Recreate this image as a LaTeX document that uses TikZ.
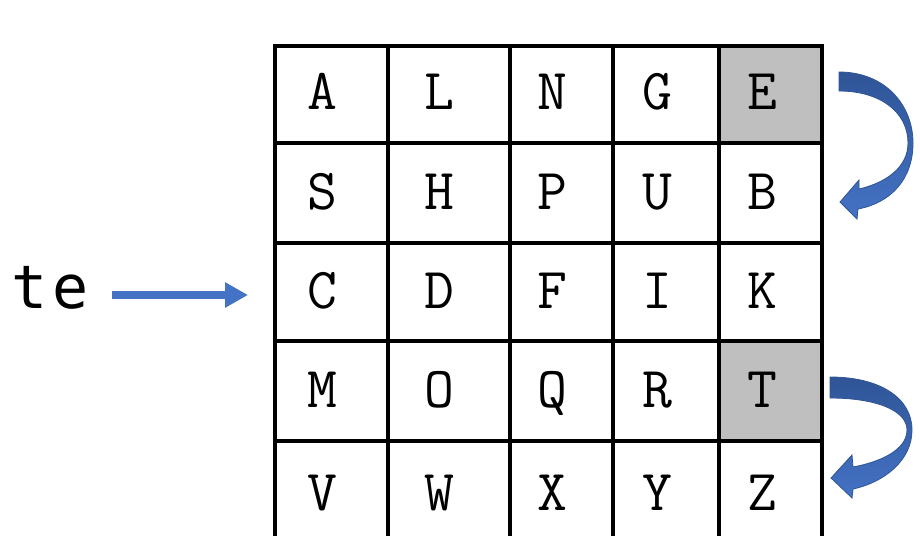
\documentclass[tikz,border=0pt]{standalone}
\usepackage{fontspec}
\newfontfamily\msgfont[LetterSpace=8]{DejaVu Sans Mono}
\usetikzlibrary{positioning}
\usetikzlibrary{arrows.meta}
\definecolor{CELL-GRAY}{RGB}{191,191,191}
\definecolor{ARROW-BLUE}{RGB}{68,114,196}
\definecolor{ARROW-DARK}{RGB}{47,85,151}

\tikzset{
  gridline/.style={line width=1.8pt,line cap=rect},
  letter/.style={anchor=base,inner sep=0pt,font=\ttfamily\fontsize{29}{29}\selectfont},
  bendarrow/.style={top color=ARROW-DARK,bottom color=ARROW-BLUE,draw=ARROW-DARK,line width=0.4pt}
}

\begin{document}
\begin{tikzpicture}[x=0.5pt,y=-0.5pt,every path/.style={>=latex}]
			\useasboundingbox (0,0) rectangle (920,535);

			% shaded cells
			\fill[CELL-GRAY] (719,46) rectangle (822,143);
			\fill[CELL-GRAY] (719,341) rectangle (822,441);

			% draw grid
			\foreach \x in {275,388,510,613,719,822}
				\draw[gridline] (\x,46) -- (\x,540);
			\foreach \y in {46,143,243,341,441}
				\draw[gridline] (275,\y) -- (822,\y);

			% draw letters
			\foreach \yy/\row in {110/{A,L,N,G,E},209/{S,H,P,U,B},308/{C,D,F,I,K},407/{M,O,Q,R,T},510/{V,W,X,Y,Z}}
				\foreach \l [count=\c] in \row {
					\pgfmathsetmacro\xx{{322,439,552,657,762}[\c-1]}
					\node (cell-\l) at (\xx,\yy) [letter] {\l};
				}

			% draw message and arrow
			\node (msg) at (50,308) [anchor=base,font=\msgfont\fontsize{30}{30}\selectfont] {te};
			\coordinate (msg-end) at (248,295);
			\draw[-{Triangle[length=11.5pt,width=12pt]},ARROW-BLUE,line width=4pt,shorten <=8pt] (msg.east |- msg-end) -- (msg-end);

			% draw curved arrows
			\shade[bendarrow] (839,72) .. controls (885,72) and (913,105) .. (913,143)
				.. controls (913,180) and (890,203) .. (858,209) -- (857,219) -- (840,202) -- (859,180) -- (859,189)
				.. controls (885,183) and (908,168) .. (908,143)
				.. controls (908,112) and (880,91) .. (839,91) -- cycle;
			\shade[bendarrow] (830,377) .. controls (880,377) and (912,398) .. (912,430)
				.. controls (912,460) and (885,482) .. (853,489) -- (852,498) -- (831,478) -- (852,455) -- (853,467)
				.. controls (880,462) and (907,450) .. (907,430)
				.. controls (907,410) and (875,398) .. (830,398) -- cycle;
		\end{tikzpicture}
\end{document}
